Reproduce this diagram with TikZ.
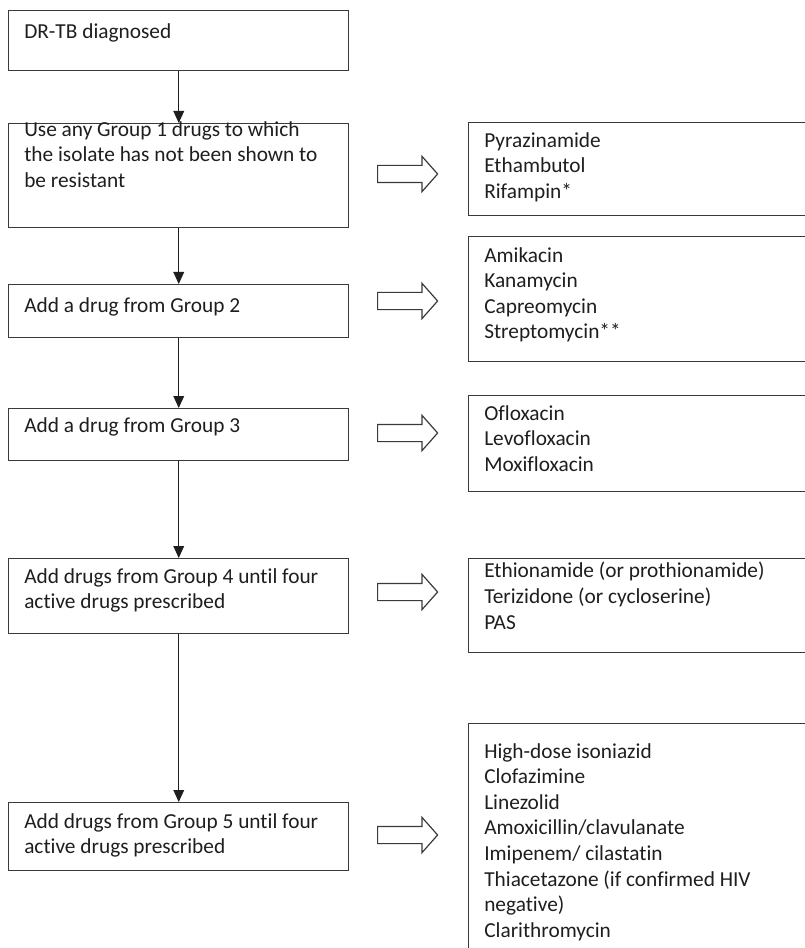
\documentclass[tikz,border=0pt]{standalone}
\usepackage{fontspec}
\setmainfont{Carlito}[Ligatures=NoCommon]
\usetikzlibrary{arrows.meta, shapes.arrows}
\definecolor{boxline}{HTML}{3A3A3A}
\definecolor{ink}{HTML}{1E1E1E}

\begin{document}
\begin{tikzpicture}[x=0.75pt, y=-0.75pt,
    lbox/.style={rectangle, draw=boxline, line width=1.1pt, anchor=north west, inner sep=0pt, minimum width=255pt},
    rbox/.style={lbox, minimum width=270pt},
    txt/.style={anchor=north west, inner sep=0pt, align=left, text=ink, font=\fontsize{16pt}{19.2pt}\selectfont, execute at begin node=\strut},
    flow/.style={-{Triangle[length=9pt,width=8pt]}, line width=0.9pt, draw=ink},
    barrow/.style={single arrow, draw=boxline, line width=0.9pt, anchor=tail, minimum height=45pt, inner sep=6pt, single arrow head extend=6.75pt, single arrow tip angle=97}]
    \useasboundingbox (0,0) rectangle (805,948);
    \clip (0,0) rectangle (805,948);

    % Steps
    \node[lbox, minimum height=45pt] (diag) at (8,10) {};
    \node[lbox, minimum height=78pt] (grp1) at (8,123) {};
    \node[lbox, minimum height=39.75pt] (grp2) at (8,284) {};
    \node[lbox, minimum height=39pt] (grp3) at (8,408) {};
    \node[lbox, minimum height=56.25pt] (grp4) at (8,558) {};
    \node[lbox, minimum height=51pt] (grp5) at (8,802) {};

    \node[txt] (diagtxt) at (24,20) {DR-TB diagnosed};
    \node[txt] (grp1txt) at (24,121) {Use any Group 1 drugs to which\\the isolate has not been shown to\\be resistant};
    \node[txt] (grp2txt) at (24,294) {Add a drug from Group 2};
    \node[txt] (grp3txt) at (24,414) {Add a drug from Group 3};
    \node[txt] (grp4txt) at (24,568) {Add drugs from Group 4 until four\\active drugs prescribed};
    \node[txt] (grp5txt) at (24,813) {Add drugs from Group 5 until four\\active drugs prescribed};

    % Drug lists
    \node[rbox, minimum height=69.75pt] (list1) at (468,122) {};
    \node[rbox, minimum height=93.75pt] (list2) at (468,236) {};
    \node[rbox, minimum height=72pt] (list3) at (468,395) {};
    \node[rbox, minimum height=70.5pt] (list4) at (468,558) {};
    \node[rbox, minimum height=177.75pt] (list5) at (468,723) {};

    \node[txt] (list1txt) at (484,132) {Pyrazinamide\\Ethambutol\\Rifampin*};
    \node[txt] (list2txt) at (484,247) {Amikacin\\Kanamycin\\Capreomycin\\Streptomycin**};
    \node[txt] (list3txt) at (484,405) {Ofloxacin\\Levofloxacin\\Moxifloxacin};
    \node[txt] (list4txt) at (484,562) {Ethionamide (or prothionamide)\\Terizidone (or cycloserine)\\PAS};
    \node[txt] (list5txt) at (484,743) {High-dose isoniazid\\Clofazimine\\Linezolid\\Amoxicillin/clavulanate\\Imipenem/ cilastatin\\Thiacetazone (if confirmed HIV\\negative)\\Clarithromycin};

    % Block arrows
    \node[barrow] (arr1) at (377,174) {};
    \node[barrow] (arr2) at (377,301) {};
    \node[barrow] (arr3) at (377,433) {};
    \node[barrow] (arr4) at (377,592) {};
    \node[barrow] (arr5) at (377,835) {};

    % Paths
    \draw[flow] (diag) -- (grp1);
    \draw[flow] (grp1) -- (grp2);
    \draw[flow] (grp2) -- (grp3);
    \draw[flow] (grp3) -- (grp4);
    \draw[flow] (grp4) -- (grp5);
\end{tikzpicture}
\end{document}
